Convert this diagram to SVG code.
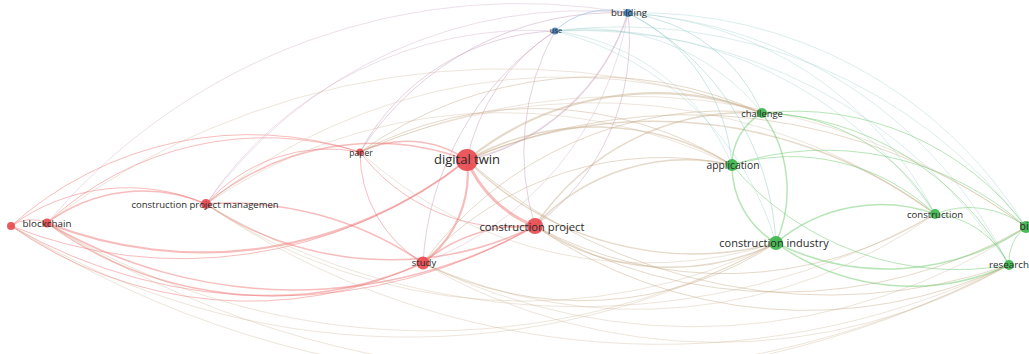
<svg xmlns="http://www.w3.org/2000/svg" width="1029" height="354" viewBox="0 0 1029 354">
<style>
.e path{fill:none;stroke-linecap:round}
.r{stroke:#f07a7a;stroke-opacity:.5}
.g{stroke:#7ccf7c;stroke-opacity:.55}
.b{stroke:#8dbde6;stroke-opacity:.6}
.rg{stroke:#c6ab88;stroke-opacity:.45}
.rb{stroke:#c39ab8;stroke-opacity:.45}
.bg{stroke:#8cc7c4;stroke-opacity:.45}
.w0{stroke-width:.7}
.w1{stroke-width:1}
.w2{stroke-width:1.5}
.w3{stroke-width:2.2}
.w4{stroke-width:3}
.nr{fill:#e8474c;fill-opacity:.9}
.nb{fill:#3b7fc2;fill-opacity:.9}
.ng{fill:#38b548;fill-opacity:.9}
text{font-family:"Open Sans","Liberation Sans",sans-serif;fill:#2a2a2a;text-anchor:middle;dominant-baseline:central}
</style>
<rect width="1029" height="354" fill="#ffffff"/>
<g id="connectors" class="e">
<path class="r w1" d="M11 226 A36 36 0 0 1 47 223"/>
<path class="r w1" d="M11 226 A196 196 0 0 1 206 204"/>
<path class="r w1" d="M11 226 A357 357 0 0 1 360 152"/>
<path class="r w1" d="M11 226 A461 461 0 0 0 467 160"/>
<path class="r w1" d="M11 226 A524 524 0 0 0 535 226"/>
<path class="r w1" d="M11 226 A414 414 0 0 0 423 263"/>
<path class="r w2" d="M47 223 A160 160 0 0 1 206 204"/>
<path class="r w1" d="M47 223 A321 321 0 0 1 360 152"/>
<path class="r w3" d="M47 223 A425 425 0 0 0 467 160"/>
<path class="r w2" d="M47 223 A488 488 0 0 0 535 226"/>
<path class="r w2" d="M47 223 A378 378 0 0 0 423 263"/>
<path class="r w1" d="M206 204 A163 163 0 0 1 360 152"/>
<path class="r w2" d="M206 204 A265 265 0 0 1 467 160"/>
<path class="r w2" d="M206 204 A330 330 0 0 0 535 226"/>
<path class="r w2" d="M206 204 A340 340 0 0 1 423 263"/>
<path class="r w2" d="M360 152 A107 107 0 0 1 467 160"/>
<path class="r w1" d="M360 152 A190 190 0 0 0 535 226"/>
<path class="r w1" d="M360 152 A128 128 0 0 0 423 263"/>
<path class="r w4" d="M467 160 A120 120 0 0 0 535 226"/>
<path class="r w3" d="M423 263 A112 112 0 0 0 467 160"/>
<path class="r w2" d="M423 263 A160 160 0 0 1 535 226"/>
<path class="rb w1" d="M360 152 A229 229 0 0 1 555 31"/>
<path class="rb w1" d="M360 152 A302 302 0 0 1 628 13"/>
<path class="rb w1" d="M467 160 A200 200 0 0 1 555 31"/>
<path class="rb w2" d="M467 160 A218 218 0 0 0 628 13"/>
<path class="rb w1" d="M535 226 A250 250 0 0 1 555 31"/>
<path class="rb w1" d="M535 226 A232 232 0 0 0 628 13"/>
<path class="rb w1" d="M423 263 A300 300 0 0 1 555 31"/>
<path class="rb w0" d="M423 263 A323 323 0 0 0 628 13"/>
<path class="rb w0" d="M206 204 A463 463 0 0 1 628 13"/>
<path class="rb w0" d="M206 204 A390 390 0 0 1 555 31"/>
<path class="rb w0" d="M47 223 A618 618 0 0 1 628 13"/>
<path class="rg w0" d="M11 226 A765 765 0 0 0 776 243"/>
<path class="rg w0" d="M11 226 A999 999 0 0 0 1009 265"/>
<path class="rg w0" d="M47 223 A729 729 0 0 0 776 243"/>
<path class="rg w0" d="M47 223 A963 963 0 0 0 1009 265"/>
<path class="rg w0" d="M47 223 A760 760 0 0 1 762 113"/>
<path class="rg w0" d="M206 204 A571 571 0 0 0 776 243"/>
<path class="rg w0" d="M206 204 A805 805 0 0 0 1009 265"/>
<path class="rg w0" d="M206 204 A729 729 0 0 0 935 214"/>
<path class="rg w0" d="M206 204 A527 527 0 0 1 732 165"/>
<path class="rg w0" d="M206 204 A565 565 0 0 1 762 113"/>
<path class="rg w1" d="M360 152 A404 404 0 0 1 762 113"/>
<path class="rg w1" d="M360 152 A372 372 0 0 1 732 165"/>
<path class="rg w0" d="M360 152 A670 670 0 0 1 1026 227"/>
<path class="rg w0" d="M360 152 A426 426 0 0 0 776 243"/>
<path class="rg w0" d="M360 152 A578 578 0 0 1 935 214"/>
<path class="rg w3" d="M467 160 A299 299 0 0 1 762 113"/>
<path class="rg w2" d="M467 160 A265 265 0 0 1 732 165"/>
<path class="rg w2" d="M467 160 A320 320 0 0 0 776 243"/>
<path class="rg w2" d="M467 160 A471 471 0 0 1 935 214"/>
<path class="rg w1" d="M467 160 A563 563 0 0 1 1026 227"/>
<path class="rg w1" d="M467 160 A552 552 0 0 0 1009 265"/>
<path class="rg w2" d="M535 226 A254 254 0 0 1 762 113"/>
<path class="rg w2" d="M535 226 A206 206 0 0 1 732 165"/>
<path class="rg w2" d="M535 226 A242 242 0 0 0 776 243"/>
<path class="rg w1" d="M535 226 A400 400 0 0 0 935 214"/>
<path class="rg w1" d="M535 226 A491 491 0 0 0 1026 227"/>
<path class="rg w1" d="M535 226 A476 476 0 0 0 1009 265"/>
<path class="rg w1" d="M423 263 A371 371 0 0 1 762 113"/>
<path class="rg w1" d="M423 263 A324 324 0 0 1 732 165"/>
<path class="rg w1" d="M423 263 A354 354 0 0 0 776 243"/>
<path class="rg w0" d="M423 263 A514 514 0 0 0 935 214"/>
<path class="rg w0" d="M423 263 A604 604 0 0 0 1026 227"/>
<path class="rg w0" d="M423 263 A586 586 0 0 0 1009 265"/>
<path class="b w1" d="M555 31 A75 75 0 0 1 628 13"/>
<path class="bg w0" d="M555 31 A223 223 0 0 1 762 113"/>
<path class="bg w0" d="M555 31 A222 222 0 0 1 732 165"/>
<path class="bg w0" d="M555 31 A306 306 0 0 1 776 243"/>
<path class="bg w0" d="M555 31 A422 422 0 0 1 935 214"/>
<path class="bg w0" d="M555 31 A510 510 0 0 1 1026 227"/>
<path class="bg w0" d="M555 31 A511 511 0 0 1 1009 265"/>
<path class="bg w1" d="M628 13 A167 167 0 0 1 762 113"/>
<path class="bg w1" d="M628 13 A184 184 0 0 1 732 165"/>
<path class="bg w1" d="M628 13 A274 274 0 0 1 776 243"/>
<path class="bg w0" d="M628 13 A367 367 0 0 1 935 214"/>
<path class="bg w0" d="M628 13 A452 452 0 0 1 1026 227"/>
<path class="bg w0" d="M628 13 A457 457 0 0 1 1009 265"/>
<path class="g w2" d="M732 165 A60 60 0 0 1 762 113"/>
<path class="g w2" d="M762 113 A131 131 0 0 1 776 243"/>
<path class="g w1" d="M762 113 A200 200 0 0 1 935 214"/>
<path class="g w1" d="M762 113 A288 288 0 0 1 1026 227"/>
<path class="g w1" d="M762 113 A290 290 0 0 1 1009 265"/>
<path class="g w2" d="M732 165 A90 90 0 0 0 776 243"/>
<path class="g w1" d="M732 165 A209 209 0 0 1 935 214"/>
<path class="g w1" d="M732 165 A300 300 0 0 1 1026 227"/>
<path class="g w1" d="M732 165 A294 294 0 0 0 1009 265"/>
<path class="g w2" d="M776 243 A162 162 0 0 1 935 214"/>
<path class="g w2" d="M776 243 A251 251 0 0 0 1026 227"/>
<path class="g w2" d="M776 243 A234 234 0 0 0 1009 265"/>
<path class="g w1" d="M935 214 A92 92 0 0 1 1026 227"/>
<path class="g w1" d="M935 214 A90 90 0 0 1 1009 265"/>
<path class="g w1" d="M1009 265 A42 42 0 0 1 1026 227"/>
</g>
<g id="n-dot"><circle class="nr" cx="11" cy="226" r="4"/></g>
<g id="n-blockchain"><circle class="nr" cx="47" cy="223" r="4.5"/><text x="47" y="223" font-size="9.8">blockchain</text></g>
<g id="n-cpm"><circle class="nr" cx="206" cy="204" r="5"/><text x="205" y="204" font-size="9.5">construction project managemen</text></g>
<g id="n-paper"><circle class="nr" cx="360" cy="152" r="3.5"/><text x="361" y="152" font-size="8.5">paper</text></g>
<g id="n-digital-twin"><circle class="nr" cx="467" cy="160" r="11"/><text x="467" y="159" font-size="13">digital twin</text></g>
<g id="n-construction-project"><circle class="nr" cx="535" cy="226" r="8"/><text x="532" y="226" font-size="11.2">construction project</text></g>
<g id="n-study"><circle class="nr" cx="423" cy="263" r="6.5"/><text x="424" y="262" font-size="9.5">study</text></g>
<g id="n-use"><circle class="nb" cx="555" cy="31" r="3.5"/><text x="556" y="30" font-size="7.5">use</text></g>
<g id="n-building"><circle class="nb" cx="628" cy="13" r="4"/><text x="629" y="12" font-size="9.6">building</text></g>
<g id="n-challenge"><circle class="ng" cx="762" cy="113" r="5"/><text x="762" y="113" font-size="9.4">challenge</text></g>
<g id="n-application"><circle class="ng" cx="732" cy="165" r="6"/><text x="733" y="165" font-size="10.3">application</text></g>
<g id="n-construction-industry"><circle class="ng" cx="776" cy="243" r="7"/><text x="774" y="242" font-size="11">construction industry</text></g>
<g id="n-construction"><circle class="ng" cx="935" cy="214" r="5"/><text x="935" y="214" font-size="9.6">construction</text></g>
<g id="n-bim"><circle class="ng" cx="1026" cy="227" r="6"/><text x="1029" y="226" font-size="10.5">bim</text></g>
<g id="n-research"><circle class="ng" cx="1009" cy="265" r="5"/><text x="1009" y="264" font-size="9.8">research</text></g>
</svg>
